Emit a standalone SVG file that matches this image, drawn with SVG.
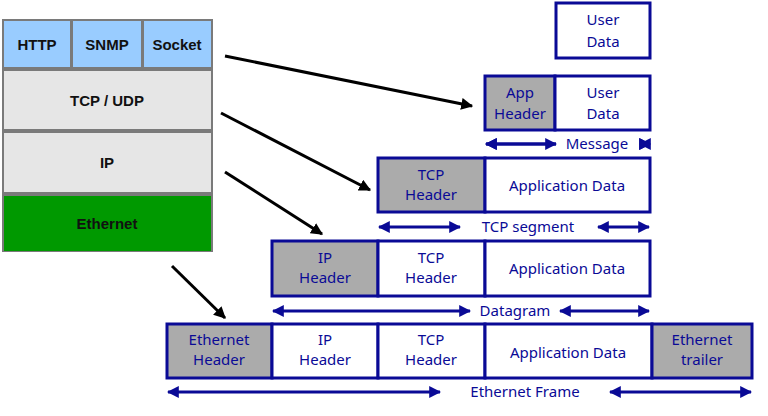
<svg xmlns="http://www.w3.org/2000/svg" width="768" height="416" viewBox="0 0 768 416">
<defs>
<style>
.s{stroke:#7a7a7a;stroke-width:3}
.lt{font-family:"Liberation Sans",Arial,sans-serif;font-size:15px;font-weight:bold;fill:#111;text-anchor:middle}
.b{stroke:#0a0a96;stroke-width:3}
.w{fill:#fff}.g{fill:#ababab}
.t{font-family:"Noto Sans","Liberation Sans",sans-serif;font-size:15px;fill:#0a0a96;text-anchor:middle}
.ba{stroke:#0a0a96;stroke-width:3;fill:none;marker-start:url(#bs);marker-end:url(#be)}
.ka{stroke:#000;stroke-width:3;fill:none;marker-end:url(#k)}
</style>
<marker id="be" viewBox="0 0 10 10" refX="9" refY="5" markerWidth="4" markerHeight="4" orient="auto" markerUnits="strokeWidth"><path d="M0,0L10,5L0,10z" fill="#0a0a96"/></marker>
<marker id="bs" viewBox="0 0 10 10" refX="1" refY="5" markerWidth="4" markerHeight="4" orient="auto" markerUnits="strokeWidth"><path d="M10,0L0,5L10,10z" fill="#0a0a96"/></marker>
<marker id="k" viewBox="0 0 10 10" refX="9" refY="5" markerWidth="4" markerHeight="4" orient="auto" markerUnits="strokeWidth"><path d="M0,0L10,5L0,10z" fill="#000"/></marker>
</defs>
<rect width="768" height="416" fill="#fff"/>
<g id="stack">
<rect x="2" y="19" width="211" height="233" fill="#7a7a7a"/>
<rect x="4" y="21" width="66" height="46" fill="#99ccff"/>
<rect x="73" y="21" width="68" height="46" fill="#99ccff"/>
<rect x="144" y="21" width="67" height="46" fill="#99ccff"/>
<rect x="4" y="71" width="207" height="58" fill="#e6e6e6"/>
<rect x="4" y="133" width="207" height="59" fill="#e6e6e6"/>
<rect x="4" y="196" width="207" height="55" fill="#009900"/>
<text class="lt" x="37" y="50">HTTP</text>
<text class="lt" x="107" y="50">SNMP</text>
<text class="lt" x="177" y="50">Socket</text>
<text class="lt" x="107" y="106">TCP / UDP</text>
<text class="lt" x="107" y="168">IP</text>
<text class="lt" x="107" y="229">Ethernet</text>
</g>
<g id="row1">
<rect class="b w" x="556" y="3" width="94" height="55"/>
<text class="t" x="603" y="25">User</text><text class="t" x="603" y="47">Data</text>
</g>
<g id="row2">
<rect class="b g" x="485" y="76" width="70" height="54"/>
<rect class="b w" x="555" y="76" width="95" height="54"/>
<text class="t" x="520" y="98">App</text><text class="t" x="520" y="119">Header</text>
<text class="t" x="603" y="98">User</text><text class="t" x="603" y="119">Data</text>
</g>
<g id="row3">
<rect class="b g" x="378" y="158" width="107" height="54"/>
<rect class="b w" x="485" y="158" width="165" height="54"/>
<text class="t" x="431" y="180">TCP</text><text class="t" x="431" y="200">Header</text>
<text class="t" x="567" y="191">Application Data</text>
</g>
<g id="row4">
<rect class="b g" x="272" y="241" width="106" height="55"/>
<rect class="b w" x="378" y="241" width="107" height="55"/>
<rect class="b w" x="485" y="241" width="165" height="55"/>
<text class="t" x="325" y="263">IP</text><text class="t" x="325" y="283">Header</text>
<text class="t" x="431" y="263">TCP</text><text class="t" x="431" y="283">Header</text>
<text class="t" x="567" y="274">Application Data</text>
</g>
<g id="row5">
<rect class="b g" x="167" y="324" width="105" height="54"/>
<rect class="b w" x="272" y="324" width="106" height="54"/>
<rect class="b w" x="378" y="324" width="107" height="54"/>
<rect class="b w" x="485" y="324" width="167" height="54"/>
<rect class="b g" x="652" y="324" width="100" height="54"/>
<text class="t" x="219" y="345">Ethernet</text><text class="t" x="219" y="365">Header</text>
<text class="t" x="325" y="345">IP</text><text class="t" x="325" y="365">Header</text>
<text class="t" x="431" y="345">TCP</text><text class="t" x="431" y="365">Header</text>
<text class="t" x="568" y="358">Application Data</text>
<text class="t" x="702" y="345">Ethernet</text><text class="t" x="702" y="365">trailer</text>
</g>
<g id="connectors">
<path class="ka" d="M225,56L472,106"/>
<path class="ka" d="M221,113L370,190"/>
<path class="ka" d="M225,172L322,234"/>
<path class="ka" d="M172,266L225,318"/>
<path class="ba" d="M486,144H556M640,144H650"/>
<path class="ba" d="M486,144H556"/><path class="ba" d="M640,144H650"/>
<path class="ba" d="M379,227H460"/><path class="ba" d="M598,227H649"/>
<path class="ba" d="M273,311H470"/><path class="ba" d="M560,311H649"/>
<path class="ba" d="M168,392H440"/><path class="ba" d="M610,392H751"/>
<text class="t" x="597" y="149">Message</text>
<text class="t" x="528" y="232">TCP segment</text>
<text class="t" x="515" y="316">Datagram</text>
<text class="t" x="525" y="397">Ethernet Frame</text>
</g>
</svg>
